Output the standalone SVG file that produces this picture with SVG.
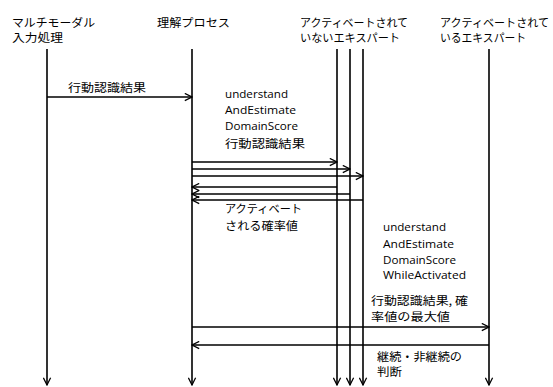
<svg xmlns="http://www.w3.org/2000/svg" width="553" height="387" viewBox="0 0 553 387">
<defs>
<marker id="ah" viewBox="0 0 10 10" refX="9" refY="5" markerWidth="9" markerHeight="9" markerUnits="userSpaceOnUse" orient="auto">
<path d="M1,1 L9,5 L1,9" fill="none" stroke="#000" stroke-width="1.4"/>
</marker>
</defs>
<style>
text{font-family:"Open Sans","Noto Sans CJK JP",sans-serif;font-size:11.5px;fill:#000}
.jp{font-family:"Noto Sans CJK JP",sans-serif;font-size:11.5px}
.ll{stroke:#000;stroke-width:1.6;fill:none}
.msg{stroke:#000;stroke-width:1.3;fill:none}
</style>
<g id="lane-multimodal">
<text class="jp" x="12" y="27" textLength="83" lengthAdjust="spacingAndGlyphs">マルチモーダル</text>
<text class="jp" x="12" y="42" textLength="51" lengthAdjust="spacingAndGlyphs">入力処理</text>
</g>
<g id="lane-understanding">
<text class="jp" x="157" y="27" textLength="73" lengthAdjust="spacingAndGlyphs">理解プロセス</text>
</g>
<g id="lane-inactive-experts">
<text class="jp" x="300" y="27" textLength="108" lengthAdjust="spacingAndGlyphs">アクティベートされて</text>
<text class="jp" x="300" y="42" textLength="100" lengthAdjust="spacingAndGlyphs">いないエキスパート</text>
</g>
<g id="lane-active-expert">
<text class="jp" x="440" y="27" textLength="109" lengthAdjust="spacingAndGlyphs">アクティベートされて</text>
<text class="jp" x="440" y="42" textLength="86" lengthAdjust="spacingAndGlyphs">いるエキスパート</text>
</g>
<g id="connectors">
<line class="ll" x1="47" y1="49" x2="47" y2="385" marker-end="url(#ah)" stroke-width="2"/>
<line class="ll" x1="192" y1="49" x2="192" y2="385" marker-end="url(#ah)"/>
<line class="ll" x1="337" y1="49" x2="337" y2="385" marker-end="url(#ah)" stroke-width="2"/>
<line class="ll" x1="350" y1="49" x2="350" y2="385" marker-end="url(#ah)"/>
<line class="ll" x1="363" y1="49" x2="363" y2="385" marker-end="url(#ah)" stroke-width="1.3"/>
<line class="ll" x1="489" y1="49" x2="489" y2="385" marker-end="url(#ah)"/>
<line class="msg" x1="47" y1="97" x2="192" y2="97" marker-end="url(#ah)"/>
<line class="msg" x1="192" y1="162" x2="337" y2="162" marker-end="url(#ah)"/>
<line class="msg" x1="192" y1="169" x2="350" y2="169" marker-end="url(#ah)"/>
<line class="msg" x1="192" y1="176" x2="363" y2="176" marker-end="url(#ah)"/>
<line class="msg" x1="337" y1="187" x2="192" y2="187" marker-end="url(#ah)"/>
<line class="msg" x1="350" y1="194" x2="192" y2="194" marker-end="url(#ah)"/>
<line class="msg" x1="363" y1="200" x2="192" y2="200" marker-end="url(#ah)"/>
<line class="msg" x1="192" y1="327" x2="489" y2="327" marker-end="url(#ah)"/>
<line class="msg" x1="489" y1="345" x2="192" y2="345" marker-end="url(#ah)"/>
</g>
<g id="labels">
<text class="jp" x="68" y="92" textLength="78" lengthAdjust="spacingAndGlyphs">行動認識結果</text>
<text x="225" y="98" textLength="63" lengthAdjust="spacingAndGlyphs">understand</text>
<text x="225" y="114" textLength="71" lengthAdjust="spacingAndGlyphs">AndEstimate</text>
<text x="225" y="130" textLength="73" lengthAdjust="spacingAndGlyphs">DomainScore</text>
<text class="jp" x="225" y="148" textLength="80" lengthAdjust="spacingAndGlyphs">行動認識結果</text>
<text class="jp" x="225" y="213" textLength="77" lengthAdjust="spacingAndGlyphs">アクティベート</text>
<text class="jp" x="225" y="230" textLength="73" lengthAdjust="spacingAndGlyphs">される確率値</text>
<text x="383" y="231" textLength="63" lengthAdjust="spacingAndGlyphs">understand</text>
<text x="383" y="248" textLength="71" lengthAdjust="spacingAndGlyphs">AndEstimate</text>
<text x="383" y="264" textLength="73" lengthAdjust="spacingAndGlyphs">DomainScore</text>
<text x="383" y="279" textLength="83" lengthAdjust="spacingAndGlyphs">WhileActivated</text>
<text class="jp" x="371" y="305" textLength="97" lengthAdjust="spacingAndGlyphs">行動認識結果, 確</text>
<text class="jp" x="371" y="321" textLength="79" lengthAdjust="spacingAndGlyphs">率値の最大値</text>
<text class="jp" x="377" y="361" textLength="85" lengthAdjust="spacingAndGlyphs">継続・非継続の</text>
<text class="jp" x="377" y="376" textLength="25" lengthAdjust="spacingAndGlyphs">判断</text>
</g>
</svg>
